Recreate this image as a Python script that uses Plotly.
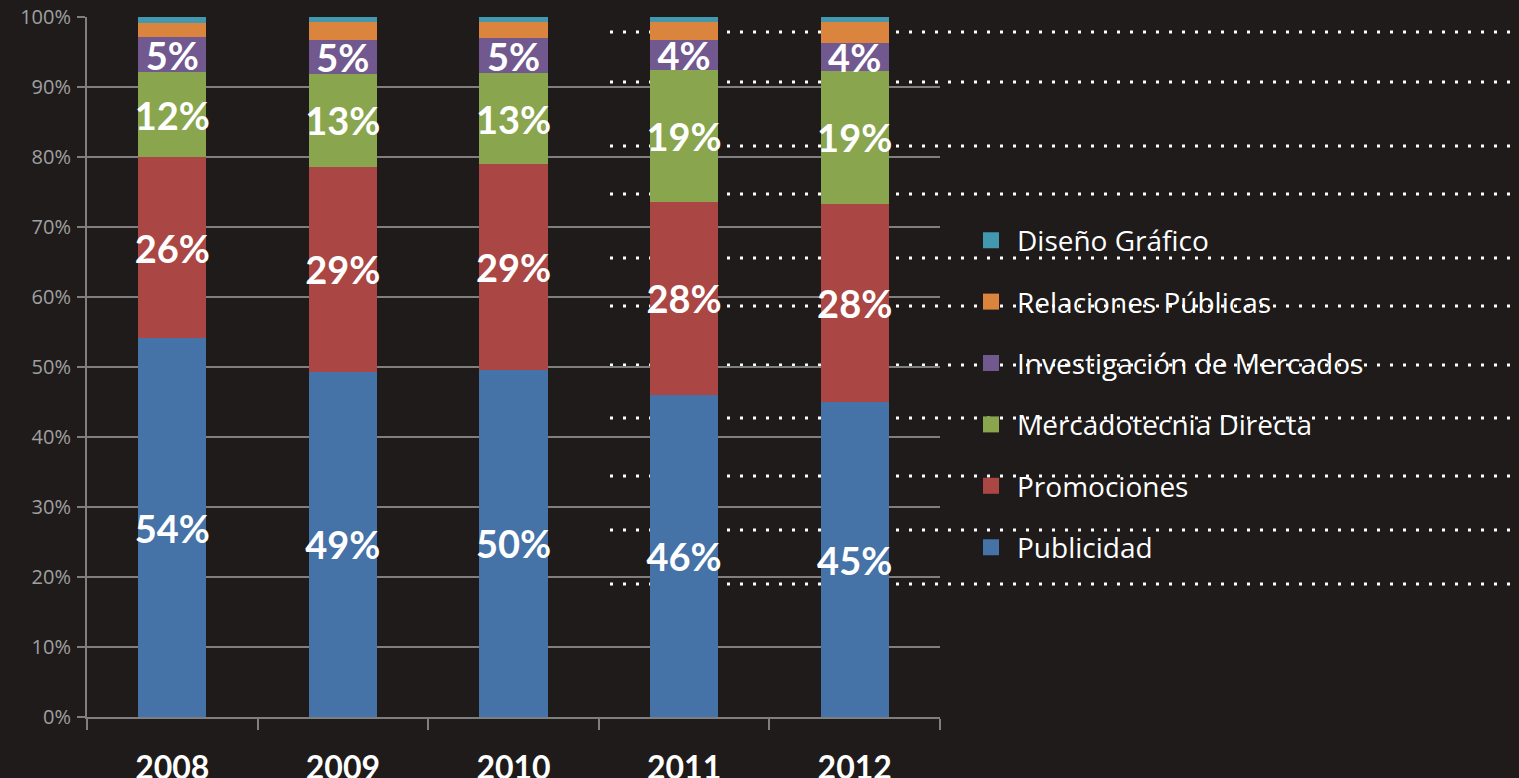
import plotly.graph_objects as go

# ---- data ----
years = ["2008", "2009", "2010", "2011", "2012"]
publicidad = [54.1, 49.3, 49.6, 46.0, 45.0]
promociones = [25.9, 29.3, 29.4, 27.6, 28.3]
mercadotecnia = [12.1, 13.3, 13.0, 18.8, 19.0]
investigacion = [5.0, 4.8, 5.0, 4.3, 4.0]
relaciones = [2.1, 2.6, 2.3, 2.6, 3.0]
diseno = [0.8, 0.7, 0.7, 0.7, 0.7]

series = [
    ("Publicidad", publicidad, "#4572a7", True),
    ("Promociones", promociones, "#aa4643", True),
    ("Mercadotecnia Directa", mercadotecnia, "#89a54e", True),
    ("Investigación de Mercados", investigacion, "#71588f", True),
    ("Relaciones Públicas", relaciones, "#db843d", False),
    ("Diseño Gráfico", diseno, "#4198af", False),
]

# ---- layout constants (pixels) ----
W, H = 1519, 778
ML, MR, MT, MB = 87, 579, 17, 61
PW = W - ML - MR
PH = H - MT - MB

BG = "#1e1b1a"
GRID = "#7f7f7f"

fig = go.Figure()
for name, vals, color, labelled in series:
    fig.add_trace(go.Bar(
        x=years, y=vals, name=name,
        marker=dict(color=color, line=dict(width=0)),
        text=[f"{v:.0f}%" for v in vals] if labelled else None,
        textposition="inside" if labelled else "none",
        insidetextanchor="middle",
        textangle=0,
        constraintext="none",
        textfont=dict(family="Lato", size=38, color="white", weight="bold"),
        showlegend=False, hoverinfo="skip",
    ))

# legend-only markers (bigger squares), top to bottom as in the reference
for name, vals, color, labelled in reversed(series):
    fig.add_trace(go.Scatter(
        x=[None], y=[None], mode="markers", name=name, legendgroup=name,
        marker=dict(symbol="square", size=18, color=color),
        showlegend=True,
    ))

# decorative dotted lines from the slide background
dot_rows = [32, 82, 146, 194, 258, 306, 365, 418, 476, 530, 584]
dot_x0, dot_x1 = 610, 1519
for yp in dot_rows:
    fig.add_shape(
        type="line", xref="paper", yref="paper",
        x0=(dot_x0 - ML) / PW, x1=(dot_x1 - ML) / PW,
        y0=(H - MB - yp) / PH, y1=(H - MB - yp) / PH,
        line=dict(color="white", width=3, dash="3px,10px"),
        layer="between",
    )

fig.update_layout(
    width=W, height=H,
    margin=dict(l=ML, r=MR, t=MT, b=MB, autoexpand=False),
    paper_bgcolor=BG, plot_bgcolor=BG,
    barmode="stack", bargap=0.6,
    font=dict(family="Open Sans", color="white"),
    legend=dict(
        x=(965 - ML) / PW, xanchor="left",
        y=(H - MB - 394) / PH, yanchor="middle",
        traceorder="grouped", tracegroupgap=22, itemwidth=42,
        font=dict(family="Open Sans", size=28, color="white"),
        bgcolor="rgba(0,0,0,0)",
    ),
    xaxis=dict(
        type="category", categoryorder="array", categoryarray=years,
        range=[-0.5, 4.5],
        showgrid=False, showline=True, linecolor=GRID, linewidth=2,
        ticks="outside", tickson="boundaries", ticklen=11, tickwidth=2, tickcolor=GRID,
        tickfont=dict(family="Lato", size=32, color="white", weight="bold"),
        ticklabelstandoff=22, automargin=False, zeroline=False,
    ),
    yaxis=dict(
        range=[0, 100], tickvals=list(range(0, 101, 10)),
        ticktext=[f"{v}%" for v in range(0, 101, 10)],
        showgrid=True, gridcolor=GRID, gridwidth=2,
        showline=True, linecolor=GRID, linewidth=2,
        ticks="outside", ticklen=8, tickwidth=2, tickcolor=GRID,
        tickfont=dict(family="Open Sans", size=20, color="#a0a0a0"),
        ticklabelstandoff=2, automargin=False, zeroline=False,
    ),
)

fig.write_html(
    "out.html",
    config={"displayModeBar": False},
    post_script="document.body.style.margin='0';document.body.style.overflow='hidden';document.body.style.background='#1e1b1a';",
)
